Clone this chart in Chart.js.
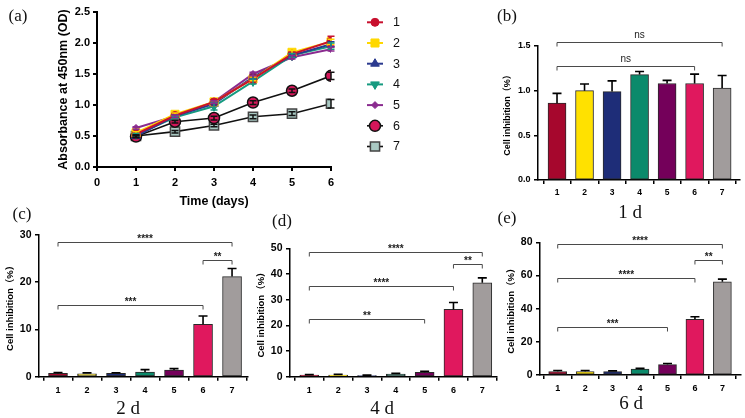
<!DOCTYPE html>
<html><head><meta charset="utf-8">
<script src="https://cdn.jsdelivr.net/npm/chart.js@4.4.1/dist/chart.umd.min.js"></script>
<style>
html,body{margin:0;padding:0;background:#fff;}
body{width:745px;height:418px;position:relative;overflow:hidden;}
canvas{position:absolute;}
.lbl{position:absolute;font-family:'Liberation Serif','Times New Roman',serif;color:#111;transform:translate(-50%,-50%);white-space:nowrap;line-height:1;}
.pl{font-size:17px;}
.cap{font-size:19px;}
</style></head><body>
<canvas id="ca" width="420" height="215" style="left:0;top:0"></canvas>
<canvas id="cb" width="265" height="222" style="left:480px;top:0"></canvas>
<canvas id="cc" width="250" height="183" style="left:0;top:222px"></canvas>
<canvas id="cd" width="250" height="183" style="left:250px;top:222px"></canvas>
<canvas id="ce" width="245" height="183" style="left:500px;top:222px"></canvas>
<div class="lbl pl" style="left:18px;top:15px">(a)</div>
<div class="lbl pl" style="left:507px;top:15px">(b)</div>
<div class="lbl pl" style="left:22px;top:213px">(c)</div>
<div class="lbl pl" style="left:282px;top:220px">(d)</div>
<div class="lbl pl" style="left:507px;top:217px">(e)</div>
<div class="lbl cap" style="left:630px;top:211px">1 d</div>
<div class="lbl cap" style="left:128px;top:407px">2 d</div>
<div class="lbl cap" style="left:382px;top:407px">4 d</div>
<div class="lbl cap" style="left:631px;top:402px">6 d</div>
<script>
// ---------- DATA ----------
const days = [1, 2, 3, 4, 5, 6];
const seriesNames = ['1', '2', '3', '4', '5', '6', '7'];
const od1 = [0.53, 0.83, 1.05, 1.42, 1.82, 2.03];
const od2 = [0.55, 0.85, 1.05, 1.42, 1.85, 2.02];
const od3 = [0.50, 0.82, 1.02, 1.45, 1.80, 1.98];
const od4 = [0.52, 0.80, 0.98, 1.38, 1.80, 1.95];
const od5 = [0.63, 0.82, 1.05, 1.50, 1.77, 1.90];
const od6 = [0.49, 0.73, 0.79, 1.04, 1.23, 1.47];
const od7 = [0.50, 0.57, 0.67, 0.81, 0.86, 1.02];
const od1Err = [0.02, 0.03, 0.03, 0.07, 0.03, 0.08];
const od2Err = [0.02, 0.02, 0.02, 0.03, 0.03, 0.04];
const od3Err = [0.02, 0.02, 0.02, 0.03, 0.02, 0.04];
const od4Err = [0.02, 0.02, 0.06, 0.04, 0.03, 0.05];
const od5Err = [0.02, 0.02, 0.02, 0.03, 0.03, 0.03];
const od6Err = [0.02, 0.02, 0.03, 0.03, 0.03, 0.06];
const od7Err = [0.02, 0.02, 0.02, 0.03, 0.03, 0.07];

const groups = ['1', '2', '3', '4', '5', '6', '7'];
const inhib1d = [0.86, 1.00, 0.99, 1.18, 1.08, 1.08, 1.03];
const inhib1dErr = [0.11, 0.075, 0.12, 0.035, 0.035, 0.105, 0.14];
const inhib2d = [0.7, 0.6, 0.7, 1.0, 1.4, 11.1, 21.2];
const inhib2dErr = [0.2, 0.2, 0.15, 0.5, 0.3, 1.75, 1.7];
const inhib4d = [0.6, 0.6, 0.4, 1.0, 1.7, 26.2, 36.6];
const inhib4dErr = [0.2, 0.3, 0.2, 0.3, 0.4, 2.7, 1.9];
const inhib6d = [2.1, 2.1, 2.0, 3.5, 6.3, 33.6, 56.2];
const inhib6dErr = [0.6, 0.6, 0.5, 0.5, 0.6, 1.5, 1.6];

// significance brackets: [from group, to group, value, label]
const sig1d = [['1', '7', 1.54, 'ns'], ['1', '6', 1.28, 'ns']];
const sig2d = [['1', '7', 28.6, '****'], ['6', '7', 24.7, '**'], ['1', '6', 15.1, '***']];
const sig4d = [['1', '7', 48.7, '****'], ['6', '7', 43.8, '**'], ['1', '6', 35.2, '****'], ['1', '5', 22.6, '**']];
const sig6d = [['1', '7', 78.9, '****'], ['6', '7', 69.3, '**'], ['1', '6', 58.6, '****'], ['1', '5', 28.7, '***']];

const odTicksY = [0, 0.5, 1.0, 1.5, 2.0, 2.5];

// ---------- STYLE ----------
const FONT = "'Liberation Sans', Arial, 'Noto Sans CJK SC', sans-serif";
const barColors = ['#a6072d', '#ffe100', '#1e2d78', '#0b8a6b', '#74005a', '#e0185e', '#a19c9c'];
const lineStyles = [
  {color: '#c8102e', point: 'circle', r: 4, fill: '#c8102e', pb: '#c8102e', bw: 2},
  {color: '#ffd800', point: 'rect', r: 5.7, fill: '#ffd800', pb: '#ffd800', bw: 2},
  {color: '#2b3a8f', point: 'triangle', r: 5, fill: '#2b3a8f', pb: '#2b3a8f', bw: 2},
  {color: '#169a80', point: 'triangle', rot: 180, r: 5, fill: '#169a80', pb: '#169a80', bw: 2},
  {color: '#8a2b8f', point: 'rectRot', r: 3.5, fill: '#8a2b8f', pb: '#8a2b8f', bw: 2},
  {color: '#111111', point: 'circle', r: 5.5, fill: '#d4175a', pb: '#111111', bw: 1.6},
  {color: '#111111', point: 'rect', r: 6.5, fill: '#a9c9c3', pb: '#444444', bw: 1.6}
];

function axisStyle(lw) {
  return {
    grid: {display: true, drawOnChartArea: false, drawTicks: true, tickLength: 4, color: '#000', lineWidth: lw},
    border: {display: true, color: '#000', width: lw}
  };
}

// error bars plugin
const errorBars = {
  id: 'errorBars',
  afterDatasetsDraw(chart) {
    const ctx = chart.ctx;
    const ys = chart.scales.y;
    const both = chart.config.type === 'line';
    chart.data.datasets.forEach((ds, di) => {
      if (!ds.errors) return;
      const meta = chart.getDatasetMeta(di);
      meta.data.forEach((el, i) => {
        const raw = ds.data[i];
        const v = typeof raw === 'object' ? raw.y : raw;
        const e = ds.errors[i];
        const x = el.x;
        const yT = ys.getPixelForValue(v + e);
        const yB = both ? ys.getPixelForValue(v - e) : ys.getPixelForValue(v);
        const cw = both ? 3.5 : 4.5;
        ctx.save();
        ctx.strokeStyle = ds.errColor || '#000';
        ctx.lineWidth = both ? 1.5 : 1.6;
        ctx.beginPath();
        ctx.moveTo(x, yB); ctx.lineTo(x, yT);
        ctx.moveTo(x - cw, yT); ctx.lineTo(x + cw, yT);
        if (both) { ctx.moveTo(x - cw, yB); ctx.lineTo(x + cw, yB); }
        ctx.stroke();
        ctx.restore();
      });
    });
  }
};

function bracketPlugin(items) {
  return {
    id: 'brackets',
    afterDraw(chart) {
      const ctx = chart.ctx;
      const xs = chart.scales.x, ys = chart.scales.y;
      items.forEach(([a, b, v, label]) => {
        const x1 = xs.getPixelForValue(Number(a));
        const x2 = xs.getPixelForValue(Number(b));
        const y = Math.round(ys.getPixelForValue(v)) + 0.5;
        ctx.save();
        ctx.strokeStyle = '#4a4a4a';
        ctx.lineWidth = 1;
        ctx.beginPath();
        ctx.moveTo(x1, y + 4); ctx.lineTo(x1, y); ctx.lineTo(x2, y); ctx.lineTo(x2, y + 4);
        ctx.stroke();
        const isNs = label === 'ns';
        ctx.font = isNs ? `10px ${FONT}` : `bold 10px ${FONT}`;
        ctx.fillStyle = '#222';
        ctx.textAlign = 'center';
        ctx.textBaseline = 'alphabetic';
        const m = ctx.measureText(label);
        const center = y - (isNs ? 7.5 : 6);
        const base = center + (m.actualBoundingBoxAscent - m.actualBoundingBoxDescent) / 2;
        ctx.fillText(label, (x1 + x2) / 2, base);
        ctx.restore();
      });
    }
  };
}

const legendPlugin = {
  id: 'sideLegend',
  afterDraw(chart) {
    const ctx = chart.ctx;
    const ca = chart.chartArea;
    chart.data.datasets.forEach((ds, i) => {
      const st = lineStyles[i];
      const y = ca.top + 10.3 + i * 20.7;
      const xl = ca.right + 36, xm = ca.right + 44, xt = ca.right + 62;
      ctx.save();
      ctx.strokeStyle = st.color; ctx.lineWidth = st.bw;
      ctx.beginPath(); ctx.moveTo(xl, y); ctx.lineTo(xl + 16, y); ctx.stroke();
      ctx.fillStyle = st.fill; ctx.strokeStyle = st.pb; ctx.lineWidth = st.bw === 2 ? 1 : 1.5;
      Chart.helpers.drawPoint(ctx, {pointStyle: st.point, radius: st.r, rotation: st.rot || 0, borderWidth: ctx.lineWidth}, xm, y);
      ctx.fillStyle = '#111';
      ctx.font = `12.5px ${FONT}`;
      ctx.textBaseline = 'middle'; ctx.textAlign = 'left';
      ctx.fillText(ds.label, xt, y + 0.5);
      ctx.restore();
    });
  }
};

// ---------- CHART (a) ----------
const odSeries = [od1, od2, od3, od4, od5, od6, od7];
const odErrs = [od1Err, od2Err, od3Err, od4Err, od5Err, od6Err, od7Err];
new Chart(document.getElementById('ca'), {
  type: 'line',
  data: {
    datasets: odSeries.map((s, i) => ({
      label: seriesNames[i],
      data: days.map((d, j) => ({x: d, y: s[j]})),
      errors: odErrs[i],
      errColor: lineStyles[i].color,
      borderColor: lineStyles[i].color,
      borderWidth: lineStyles[i].bw,
      backgroundColor: lineStyles[i].fill,
      pointStyle: lineStyles[i].point,
      pointRotation: lineStyles[i].rot || 0,
      pointRadius: lineStyles[i].r,
      pointBackgroundColor: lineStyles[i].fill,
      pointBorderColor: lineStyles[i].pb,
      pointBorderWidth: lineStyles[i].bw === 2 ? 1 : 1.5,
      tension: 0, fill: false
    }))
  },
  options: {
    responsive: false, animation: false, devicePixelRatio: 1,
    layout: {padding: {top: 12, right: 89, left: 0, bottom: 0}},
    plugins: {legend: {display: false}, tooltip: {enabled: false}},
    scales: {
      x: {
        type: 'linear', min: 0, max: 6,
        ticks: {stepSize: 1, color: '#000', padding: 5, font: {family: FONT, size: 11, weight: 'bold'}, maxRotation: 0},
        title: {display: true, text: 'Time (days)', color: '#000', font: {family: FONT, size: 12.5, weight: 'bold', lineHeight: 1.2}, padding: {top: 0, bottom: 5.8}},
        afterFit: s => { s.height = 48; },
        ...axisStyle(2)
      },
      y: {
        min: 0, max: 2.5,
        afterBuildTicks: s => { s.ticks = odTicksY.map(v => ({value: v})); },
        ticks: {color: '#000', padding: 3, font: {family: FONT, size: 11, weight: 'bold'}, callback: v => Number(v).toFixed(1)},
        title: {display: true, text: 'Absorbance at 450nm (OD)', color: '#000', font: {family: FONT, size: 12.5, weight: 'bold', lineHeight: 1.2}, padding: {top: 56.5, bottom: 0}},
        afterFit: s => { s.width = 97; },
        ...axisStyle(2)
      }
    }
  },
  plugins: [errorBars, legendPlugin]
});

// ---------- BAR CHARTS ----------
function makeBar(id, g, vals, errs, sig, yMax, yStep, dec) {
  return new Chart(document.getElementById(id), {
    type: 'bar',
    data: {
      datasets: [{
        data: groups.map((c, i) => ({x: Number(c), y: vals[i]})),
        errors: errs,
        backgroundColor: barColors,
        borderColor: '#2a2a2a', borderWidth: 1, borderSkipped: false,
        barThickness: g.bar
      }]
    },
    options: {
      responsive: false, animation: false, devicePixelRatio: 1,
      layout: {padding: {top: g.pt, right: g.pr, left: 0, bottom: 0}},
      plugins: {legend: {display: false}, tooltip: {enabled: false}},
      scales: {
        x: {
          type: 'linear', min: g.xmin, max: g.xmax, offset: false,
          ticks: {stepSize: 1, includeBounds: false, autoSkip: false, maxRotation: 0, color: '#000', padding: 4,
                  font: {family: FONT, size: g.xf, weight: 'bold'}, callback: v => groups[v - 1] || ''},
          afterFit: s => { s.height = g.xh; },
          ...axisStyle(1.5)
        },
        y: {
          min: 0, max: yMax,
          ticks: {stepSize: yStep, color: '#000', padding: 3.5, font: {family: FONT, size: g.yf, weight: 'bold'}, callback: v => Number(v).toFixed(dec)},
          title: {display: true, text: 'Cell inhibition（%）', color: '#000', font: {family: FONT, size: g.tf, weight: 'bold', lineHeight: 1.2}, padding: {top: g.tp, bottom: 0}},
          afterFit: s => { s.width = g.yw; },
          ...axisStyle(1.5)
        }
      }
    },
    plugins: [errorBars, bracketPlugin(sig)]
  });
}

makeBar('cb', {pt: 46, pr: 5, yw: 58, xh: 42, xmin: 0.309, xmax: 7.65, bar: 18, xf: 8.5, yf: 9, tf: 9, tp: 22.6}, inhib1d, inhib1dErr, sig1d, 1.5, 0.5, 1);
makeBar('cc', {pt: 13, pr: 2, yw: 39, xh: 28.3, xmin: 0.345, xmax: 7.55, bar: 19, xf: 9, yf: 10.5, tf: 9.5, tp: 4.3}, inhib2d, inhib2dErr, sig2d, 30, 10, 0);
makeBar('cd', {pt: 26.3, pr: 3, yw: 40, xh: 28.3, xmin: 0.33, xmax: 7.51, bar: 19, xf: 9, yf: 10.5, tf: 9.5, tp: 5.3}, inhib4d, inhib4dErr, sig4d, 50, 10, 0);
makeBar('ce', {pt: 20.3, pr: 4.5, yw: 40, xh: 30, xmin: 0.355, xmax: 7.66, bar: 18, xf: 9, yf: 10.5, tf: 9.5, tp: 5.3}, inhib6d, inhib6dErr, sig6d, 80, 20, 0);
</script>
</body></html>
